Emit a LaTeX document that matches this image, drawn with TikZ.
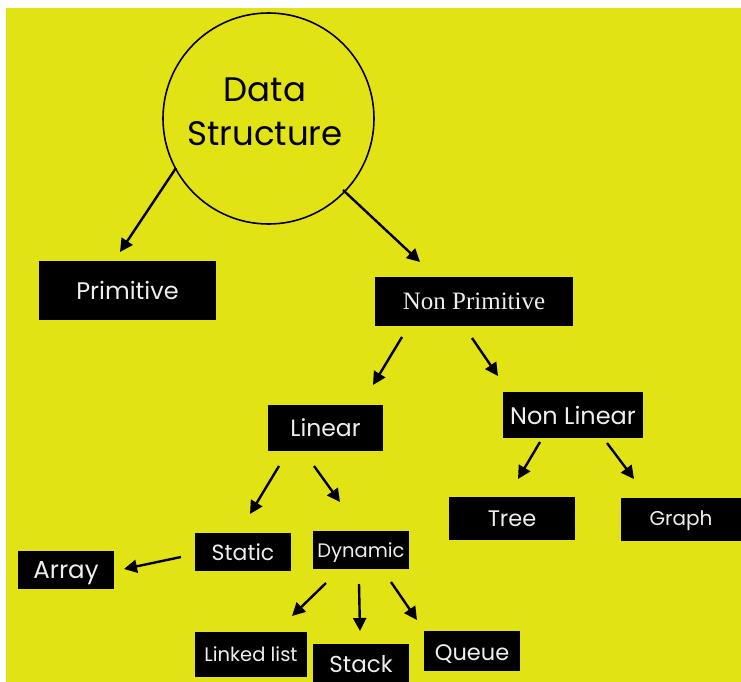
\documentclass[tikz,border=0pt]{standalone}
\usepackage{fontspec}
\setmainfont{Poppins}
\newfontfamily\npserif{Liberation Serif}
\usetikzlibrary{arrows.meta}
\definecolor{bgyellow}{RGB}{226,227,21}
\definecolor{boxtext}{RGB}{238,238,238}
\tikzset{
  tag/.style={fill=black, text=boxtext, inner sep=0pt, anchor=center},
  arr/.style={line width=2.4pt, -{Triangle[length=13pt,width=13pt]}},
}
\newcommand{\fs}[1]{\fontsize{#1}{#1}\selectfont}
% sets a label lower without changing the size it reports
\newcommand{\low}[2]{\raisebox{-#1pt}[\height][\depth]{#2}}
\begin{document}
\begin{tikzpicture}[x=1pt,y=-1pt]
\useasboundingbox (0,0) rectangle (741,682);
\fill[white] (0,0) rectangle (741,682);
\fill[bgyellow] (6,8) rectangle (741,682);

% root
\node[circle, draw=black, line width=1.6pt, minimum size=211pt, inner sep=0pt] (ds) at (268.5,118.5) {};
\node[align=center, font=\fs{34}, text=black] (dst) at (265,112) {Data\\[10pt]Structure};

% boxes
\node[tag, minimum width=177pt, minimum height=59pt, font=\fs{24}] (prim) at (127.5,290.5) {Primitive};
\node[tag, minimum width=198pt, minimum height=49pt, font=\npserif\fs{25}] (nprim) at (474,301.5) {Non Primitive};
\node[tag, minimum width=115pt, minimum height=46pt, font=\fs{23.5}] (lin) at (325.5,428) {Linear};
\node[tag, minimum width=140pt, minimum height=46pt, font=\fs{24}] (nlin) at (573,415) {Non Linear};
\node[tag, minimum width=126pt, minimum height=43pt, font=\fs{22.5}] (tree) at (512,518.5) {Tree};
\node[tag, minimum width=121pt, minimum height=43pt, font=\fs{20}] (graph) at (681,519.5) {\low{1}{Graph}};
\node[tag, minimum width=96pt, minimum height=38pt, font=\fs{22}] (stat) at (243,552) {Static};
\node[tag, minimum width=96pt, minimum height=38pt, font=\fs{19.5}] (dyn) at (361,550) {\low{2.5}{Dynamic}};
\node[tag, minimum width=96pt, minimum height=38pt, font=\fs{24.5}] (arr) at (66,570) {\low{3}{Array}};
\node[tag, minimum width=112pt, minimum height=45pt, font=\fs{19.5}] (ll) at (251,654.5) {Linked list};
\node[tag, minimum width=96pt, minimum height=40pt, font=\fs{23}] (stk) at (361,664) {Stack};
\node[tag, minimum width=96pt, minimum height=40pt, font=\fs{22.5}] (que) at (472,651) {\low{3}{Queue}};

% connector ends
\coordinate (a1s) at (176,168);  \coordinate (a1e) at (120,252);
\coordinate (a2s) at (343,190);  \coordinate (a2e) at (420,262);
\coordinate (a3s) at (402,337);  \coordinate (a3e) at (373,385);
\coordinate (a4s) at (472,338);  \coordinate (a4e) at (498,376);
\coordinate (a5s) at (279,466);  \coordinate (a5e) at (250,514);
\coordinate (a6s) at (314,466);  \coordinate (a6e) at (340,502);
\coordinate (a7s) at (540,442);  \coordinate (a7e) at (518,479);
\coordinate (a8s) at (607,443);  \coordinate (a8e) at (634,479);
\coordinate (a9s) at (181,557);  \coordinate (a9e) at (124,569);
\coordinate (a10s) at (326,583); \coordinate (a10e) at (292,616);
\coordinate (a11s) at (359,584); \coordinate (a11e) at (360,631);
\coordinate (a12s) at (391,582); \coordinate (a12e) at (417,620);

\draw[arr] (a1s) -- (a1e);
\draw[arr] (a2s) -- (a2e);
\draw[arr] (a3s) -- (a3e);
\draw[arr] (a4s) -- (a4e);
\draw[arr] (a5s) -- (a5e);
\draw[arr] (a6s) -- (a6e);
\draw[arr] (a7s) -- (a7e);
\draw[arr] (a8s) -- (a8e);
\draw[arr] (a9s) -- (a9e);
\draw[arr] (a10s) -- (a10e);
\draw[arr] (a11s) -- (a11e);
\draw[arr] (a12s) -- (a12e);
\end{tikzpicture}
\end{document}
